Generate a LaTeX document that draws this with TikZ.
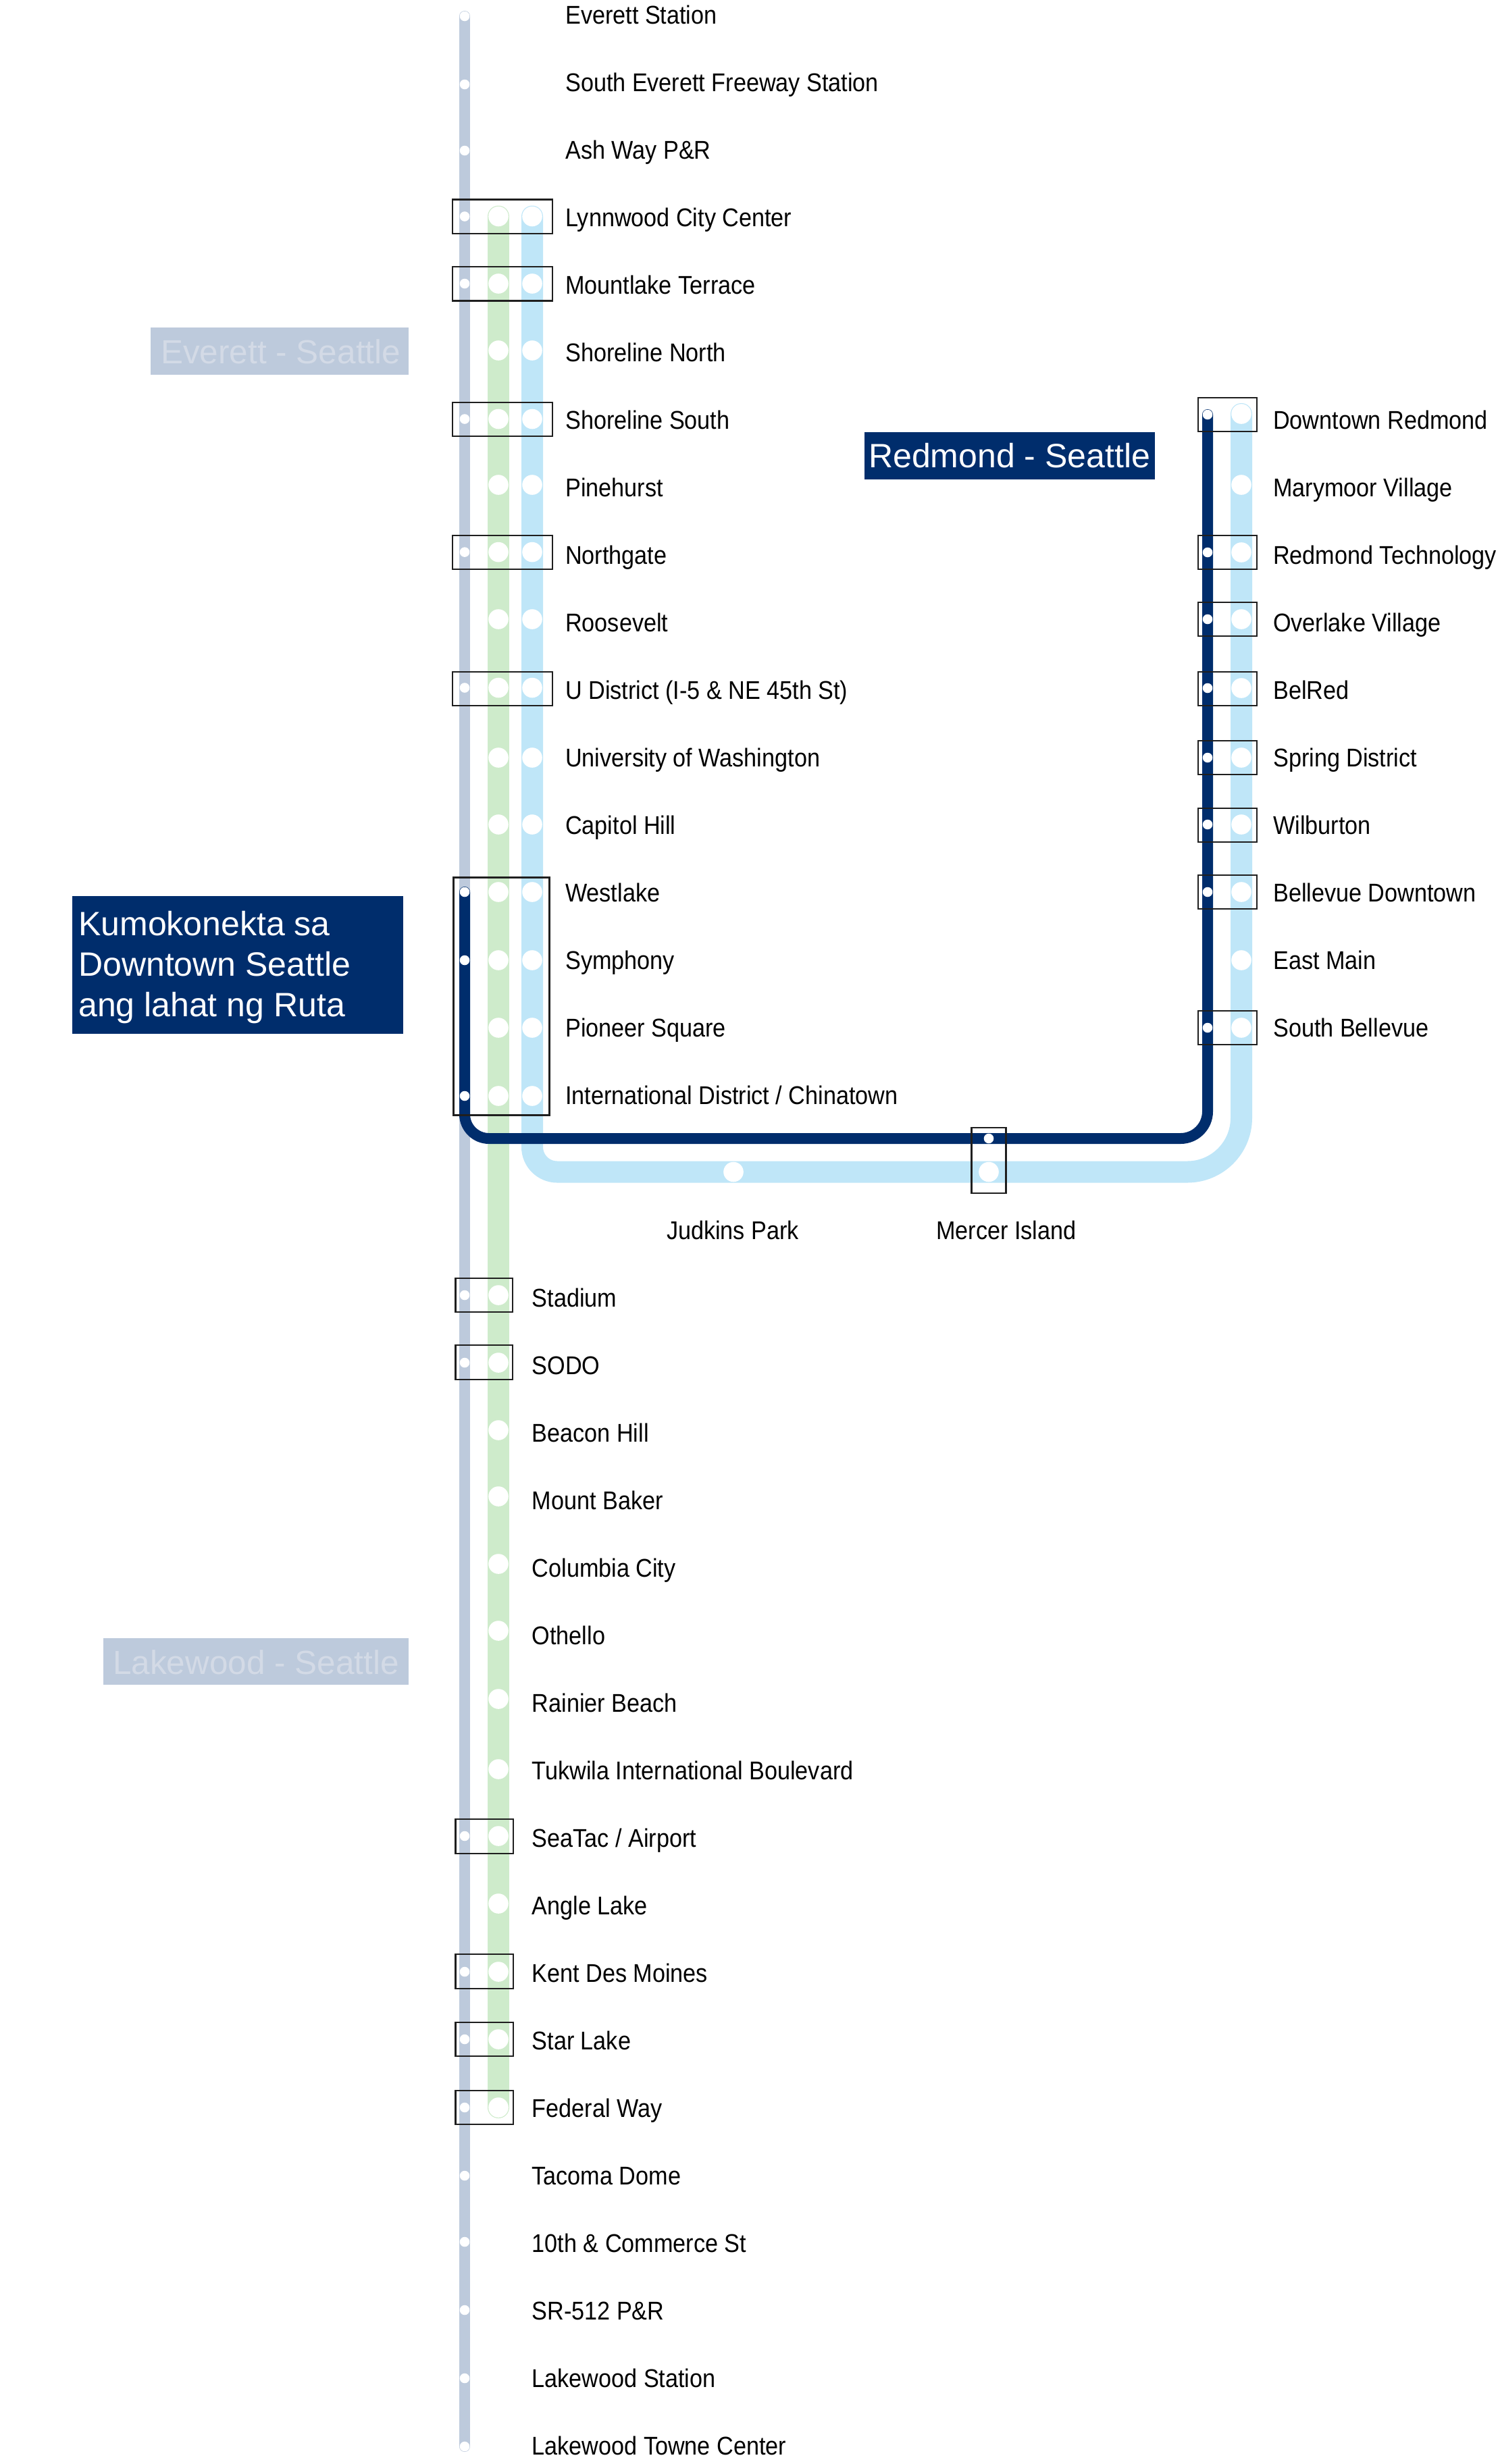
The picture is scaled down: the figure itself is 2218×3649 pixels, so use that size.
\documentclass[tikz,border=0pt]{standalone}
\usepackage{fontspec}
\setmainfont{Liberation Sans}
\newfontfamily\stnfamily[FakeStretch=0.9]{Liberation Sans}
\definecolor{evgrey}{HTML}{BDCADC}
\definecolor{lkgreen}{HTML}{CEEBCB}
\definecolor{rdblue}{HTML}{BFE6F8}
\definecolor{dtnavy}{HTML}{002D6C}
\definecolor{faint}{HTML}{D3DAE6}
\tikzset{
  greyline/.style={line width=16pt, evgrey, line cap=round},
  greenline/.style={line width=32pt, lkgreen, line cap=round},
  blueline/.style={line width=32pt, rdblue, line cap=round},
  navyline/.style={line width=16pt, dtnavy, line cap=round},
  stopbox/.style={draw=black!88, line width=2.4pt},
  stnlabel/.style={anchor=base west, inner sep=0pt, font=\stnfamily\fontsize{38}{38}\selectfont},
  routelabel/.style={anchor=base west, inner sep=0pt, align=left, font=\fontsize{49.5}{60}\selectfont}
}
\begin{document}
\begin{tikzpicture}[x=1pt,y=-1pt]
    \useasboundingbox (0,0) rectangle (2218,3649);

    % Line ends
    \coordinate (everett) at (688,24);
    \coordinate (towne) at (688,3623);
    \coordinate (lynnG) at (738,320.5);
    \coordinate (federalG) at (738,3121);
    \coordinate (lynnB) at (788,320.5);
    \coordinate (redmondB) at (1838,613);
    \coordinate (westlakeN) at (688,1321);
    \coordinate (redmondN) at (1788,614);

    % Draw the four lines
    \draw[greyline] (everett) -- (towne);
    \draw[greenline] (lynnG) -- (federalG);
    \draw[blueline] (lynnB) -- (788,1698.5) arc (180:90:37) -- (1758,1735.5) arc (90:0:80) -- (redmondB);
    \draw[navyline] (westlakeN) -- (688,1650) arc (180:90:36) -- (1748,1686) arc (90:0:40) -- (redmondN);

    % Small stops
    \fill[white] (688,24) circle (7.3) (688,125) circle (7.3) (688,223) circle (7.3);
    \fill[white] (688,320.5) circle (7.3) (688,420) circle (7.3) (688,620.5) circle (7.3);
    \fill[white] (688,817.6) circle (7.3) (688,1018.5) circle (7.3);
    \fill[white] (688,1321) circle (7.3) (688,1422) circle (7.3) (688,1623) circle (7.3);
    \fill[white] (688,1918) circle (7.3) (688,2018) circle (7.3) (688,2719) circle (7.3);
    \fill[white] (688,2920) circle (7.3) (688,3020) circle (7.3) (688,3121) circle (7.3);
    \fill[white] (688,3222) circle (7.3) (688,3320) circle (7.3) (688,3421) circle (7.3);
    \fill[white] (688,3522) circle (7.3) (688,3623) circle (7.3);
    \fill[white] (1464,1686) circle (7.3);
    \fill[white] (1788,614) circle (7.3) (1788,818) circle (7.3) (1788,917) circle (7.3);
    \fill[white] (1788,1019) circle (7.3) (1788,1122) circle (7.3) (1788,1221) circle (7.3);
    \fill[white] (1788,1321) circle (7.3) (1788,1522) circle (7.3);

    % Big stops, green line
    \fill[white] (738,320.5) circle (14.8) (738,420) circle (14.8) (738,519) circle (14.8);
    \fill[white] (738,620.5) circle (14.8) (738,718) circle (14.8) (738,817.6) circle (14.8);
    \fill[white] (738,917) circle (14.8) (738,1018.5) circle (14.8) (738,1122) circle (14.8);
    \fill[white] (738,1221) circle (14.8) (738,1321) circle (14.8) (738,1422) circle (14.8);
    \fill[white] (738,1522) circle (14.8) (738,1623) circle (14.8);
    \fill[white] (738,1918) circle (14.8) (738,2018) circle (14.8) (738,2118) circle (14.8);
    \fill[white] (738,2216) circle (14.8) (738,2316) circle (14.8) (738,2415) circle (14.8);
    \fill[white] (738,2516) circle (14.8) (738,2620) circle (14.8) (738,2719) circle (14.8);
    \fill[white] (738,2819) circle (14.8) (738,2920) circle (14.8) (738,3020) circle (14.8);
    \fill[white] (738,3121) circle (14.8);

    % Big stops, blue line
    \fill[white] (788,320.5) circle (14.8) (788,420) circle (14.8) (788,519) circle (14.8);
    \fill[white] (788,620.5) circle (14.8) (788,718) circle (14.8) (788,817.6) circle (14.8);
    \fill[white] (788,917) circle (14.8) (788,1018.5) circle (14.8) (788,1122) circle (14.8);
    \fill[white] (788,1221) circle (14.8) (788,1321) circle (14.8) (788,1422) circle (14.8);
    \fill[white] (788,1522) circle (14.8) (788,1623) circle (14.8);
    \fill[white] (1086,1735.5) circle (14.8) (1464,1735.5) circle (14.8);
    \fill[white] (1838,613) circle (14.8) (1838,718) circle (14.8) (1838,818) circle (14.8);
    \fill[white] (1838,917) circle (14.8) (1838,1019) circle (14.8) (1838,1122) circle (14.8);
    \fill[white] (1838,1221) circle (14.8) (1838,1321) circle (14.8) (1838,1422) circle (14.8);
    \fill[white] (1838,1522) circle (14.8);

    % Boxes round the shared stops
    \draw[stopbox] (670,295.5) rectangle (818,346);
    \draw[stopbox] (670,395) rectangle (818,445.5);
    \draw[stopbox] (670,596) rectangle (818,646);
    \draw[stopbox] (670,792.7) rectangle (818,843);
    \draw[stopbox] (670,994.7) rectangle (818,1045);
    \draw[stopbox, line width=3pt] (671,1299.5) rectangle (813,1651.5);
    \draw[stopbox] (674.3,1893) rectangle (759,1943);
    \draw[stopbox] (674.3,1992) rectangle (759,2043);
    \draw[stopbox] (674.3,2694) rectangle (760,2745);
    \draw[stopbox] (674.3,2894) rectangle (760,2945);
    \draw[stopbox] (674.3,2995) rectangle (760,3045);
    \draw[stopbox] (674.3,3096) rectangle (760,3146);
    \draw[stopbox] (1438.5,1670) rectangle (1489.4,1767);
    \draw[stopbox] (1774,589) rectangle (1861,639);
    \draw[stopbox] (1774,792.7) rectangle (1861,843);
    \draw[stopbox] (1774,892) rectangle (1861,942);
    \draw[stopbox] (1774,995) rectangle (1861,1045);
    \draw[stopbox] (1774,1097) rectangle (1861,1147);
    \draw[stopbox] (1774,1196.7) rectangle (1861,1246.7);
    \draw[stopbox] (1774,1296) rectangle (1861,1346);
    \draw[stopbox] (1774,1497) rectangle (1861,1547);

    % Station names, north part
    \node[stnlabel] (lblEverett) at (837,35) {Everett Station};
    \node[stnlabel] (lblSouthEverett) at (837,135) {South Everett Freeway Station};
    \node[stnlabel] (lblAshWay) at (837,235) {Ash Way P\&R};
    \node[stnlabel] (lblLynnwood) at (837,335) {Lynnwood City Center};
    \node[stnlabel] (lblMountlake) at (837,435) {Mountlake Terrace};
    \node[stnlabel] (lblShoreN) at (837,535) {Shoreline North};
    \node[stnlabel] (lblShoreS) at (837,635) {Shoreline South};
    \node[stnlabel] (lblPinehurst) at (837,735) {Pinehurst};
    \node[stnlabel] (lblNorthgate) at (837,835) {Northgate};
    \node[stnlabel] (lblRoosevelt) at (837,935) {Roosevelt};
    \node[stnlabel] (lblUDistrict) at (837,1035) {U District (I-5 \& NE 45th St)};
    \node[stnlabel] (lblUW) at (837,1135) {University of Washington};
    \node[stnlabel] (lblCapitol) at (837,1235) {Capitol Hill};
    \node[stnlabel] (lblWestlake) at (837,1335) {Westlake};
    \node[stnlabel] (lblSymphony) at (837,1435) {Symphony};
    \node[stnlabel] (lblPioneer) at (837,1535) {Pioneer Square};
    \node[stnlabel] (lblIntl) at (837,1635) {International District / Chinatown};

    % Station names, east part
    \node[stnlabel] (lblDtRedmond) at (1885,635) {Downtown Redmond};
    \node[stnlabel] (lblMarymoor) at (1885,735) {Marymoor Village};
    \node[stnlabel] (lblRedTech) at (1885,835) {Redmond Technology};
    \node[stnlabel] (lblOverlake) at (1885,935) {Overlake Village};
    \node[stnlabel] (lblBelRed) at (1885,1035) {BelRed};
    \node[stnlabel] (lblSpring) at (1885,1135) {Spring District};
    \node[stnlabel] (lblWilburton) at (1885,1235) {Wilburton};
    \node[stnlabel] (lblBellevue) at (1885,1335) {Bellevue Downtown};
    \node[stnlabel] (lblEastMain) at (1885,1435) {East Main};
    \node[stnlabel] (lblSouthBell) at (1885,1535) {South Bellevue};
    \node[stnlabel, anchor=base] (lblJudkins) at (1085,1835) {Judkins Park};
    \node[stnlabel, anchor=base] (lblMercer) at (1490,1835) {Mercer Island};

    % Station names, south part
    \node[stnlabel] (lblStadium) at (787.5,1935) {Stadium};
    \node[stnlabel] (lblSodo) at (787.5,2035) {SODO};
    \node[stnlabel] (lblBeacon) at (787.5,2135) {Beacon Hill};
    \node[stnlabel] (lblBaker) at (787.5,2235) {Mount Baker};
    \node[stnlabel] (lblColumbia) at (787.5,2335) {Columbia City};
    \node[stnlabel] (lblOthello) at (787.5,2435) {Othello};
    \node[stnlabel] (lblRainier) at (787.5,2535) {Rainier Beach};
    \node[stnlabel] (lblTukwila) at (787.5,2635) {Tukwila International Boulevard};
    \node[stnlabel] (lblSeaTac) at (787.5,2735) {SeaTac / Airport};
    \node[stnlabel] (lblAngle) at (787.5,2835) {Angle Lake};
    \node[stnlabel] (lblKent) at (787.5,2935) {Kent Des Moines};
    \node[stnlabel] (lblStar) at (787.5,3035) {Star Lake};
    \node[stnlabel] (lblFederal) at (787.5,3135) {Federal Way};
    \node[stnlabel] (lblTacoma) at (787.5,3235) {Tacoma Dome};
    \node[stnlabel] (lblCommerce) at (787.5,3335) {10th \& Commerce St};
    \node[stnlabel] (lblSR) at (787.5,3435) {SR-512 P\&R};
    \node[stnlabel] (lblLakewood) at (787.5,3535) {Lakewood Station};
    \node[stnlabel] (lblLkTowne) at (787.5,3635) {Lakewood Towne Center};

    % Route boxes
    \fill[evgrey] (223,485) rectangle (605,555);
    \node[routelabel, text=faint] (boxEverett) at (238,538) {Everett - Seattle};
    \fill[evgrey] (153,2426) rectangle (605,2495);
    \node[routelabel, text=faint] (boxLakewood) at (167,2479) {Lakewood - Seattle};
    \fill[dtnavy] (106.8,1326.5) rectangle (597,1530.6);
    \node[routelabel, text=white, font=\fontsize{50}{60}\selectfont] (boxDowntown) at (116,1505) {Kumokonekta sa\\Downtown Seattle\\ang lahat ng Ruta};
    \fill[dtnavy] (1280,640) rectangle (1710,710);
    \node[routelabel, text=white, font=\fontsize{50}{60}\selectfont] (boxRedmond) at (1286,692) {Redmond - Seattle};
\end{tikzpicture}
\end{document}
